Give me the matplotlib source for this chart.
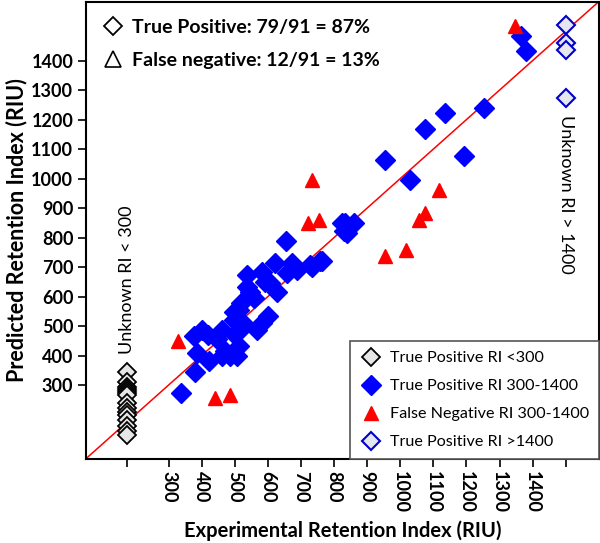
import matplotlib
matplotlib.use("Agg")
import matplotlib.pyplot as plt
from matplotlib.lines import Line2D
import numpy as np

plt.rcParams["font.family"] = ["Lato", "DejaVu Sans"]

# unknown-RI columns sit on their own tick positions
X_LOW, X_HIGH = 175, 1500

# true positives, unknown RI < 300 (predicted only)
tp_low_pred = [345, 309, 295, 288, 280, 272, 265, 239, 222, 208, 199, 182, 160, 143, 131]

# true positives, RI 300-1400
tp_exp = [337, 381, 386, 376, 401, 421, 461, 461, 486, 507, 512, 502, 497, 497, 512,
          537, 537, 547, 557, 567, 582, 602, 582, 621, 607, 628, 656, 673, 688, 658,
          733, 759, 824, 829, 728, 764, 834, 860, 839, 955, 1031, 1074, 1135, 1192,
          1253, 1364, 1379, 420, 445, 530, 520, 470, 590]
tp_pred = [273, 346, 408, 465, 487, 380, 487, 397, 397, 397, 431, 470, 521, 549, 555,
           674, 634, 617, 595, 487, 510, 533, 685, 713, 645, 617, 787, 713, 691, 679,
           702, 719, 849, 821, 708, 719, 849, 849, 815, 1064, 994, 1168, 1222, 1077,
           1239, 1484, 1431, 470, 455, 505, 580, 415, 650]

# false negatives, RI 300-1400
fn_exp = [328, 441, 486, 734, 720, 754, 955, 1016, 1056, 1076, 1117, 1348]
fn_pred = [448, 256, 267, 996, 849, 860, 738, 758, 860, 885, 960, 1516]

# true positives, unknown RI > 1400
tp_high_pred = [1521, 1459, 1436, 1273]

x_ticks = [X_LOW, 300, 400, 500, 600, 700, 800, 900, 1000, 1100, 1200, 1300, 1400, X_HIGH]
x_labels = ["", "300", "400", "500", "600", "700", "800", "900", "1000", "1100", "1200",
            "1300", "1400", ""]
y_ticks = list(range(300, 1500, 100))

fig = plt.figure(figsize=(6.0, 5.43), dpi=100)
ax = fig.add_axes([0.143, 0.155, 0.855, 0.842])

ax.plot([50, 1600], [50, 1600], color="red", lw=1.1, zorder=1)

ax.plot([X_LOW] * len(tp_low_pred), tp_low_pred, "D", ms=9.5, mfc="#e6e6e6", mec="black",
        mew=1.3, ls="none", zorder=3)
ax.plot(tp_exp, tp_pred, "D", ms=10, mfc="#0000ff", mec="#0000ff", ls="none", zorder=3)
ax.plot(fn_exp, fn_pred, "^", ms=10.5, mfc="#ff0000", mec="#ff0000", ls="none", zorder=4)
ax.plot([X_HIGH] * len(tp_high_pred), tp_high_pred, "D", ms=9.5, mfc="#e6e6ee",
        mec="#0000cc", mew=1.5, ls="none", zorder=3)

ax.set_xlim(50, 1600)
ax.set_ylim(50, 1600)
ax.set_xticks(x_ticks)
ax.set_xticklabels(x_labels, rotation=-90, fontsize=13, fontweight="bold")
ax.set_yticks(y_ticks)
ax.set_yticklabels([str(v) for v in y_ticks], fontsize=13, fontweight="bold")
ax.tick_params(direction="out", length=6, width=1.2, pad=3)
for s in ax.spines.values():
    s.set_linewidth(1.5)

ax.set_xlabel("Experimental Retention Index (RIU)", fontsize=14.5, fontweight="bold", labelpad=5)
ax.set_ylabel("Predicted Retention Index (RIU)", fontsize=15.5, fontweight="bold", labelpad=3)

ax.text(X_LOW, 657, "Unknown RI < 300", rotation=90, ha="center", va="center", fontsize=13)
ax.text(X_HIGH, 945, "Unknown RI > 1400", rotation=-90, ha="center", va="center", fontsize=13)

# summary key, top left
summ = [Line2D([], [], marker="D", ms=9, mfc="white", mec="black", mew=1.3, ls="none"),
        Line2D([], [], marker="^", ms=11, mfc="white", mec="black", mew=1.2, ls="none")]
leg1 = ax.legend(summ, ["True Positive: 79/91 = 87%", "False negative: 12/91 = 13%"],
                 loc="upper left", frameon=False, prop=dict(size=14, weight="bold"),
                 handlelength=1.0, handletextpad=0.5, labelspacing=0.8,
                 borderaxespad=0.5, bbox_to_anchor=(0.0, 1.0))
ax.add_artist(leg1)

handles = [Line2D([], [], marker="D", ms=9, mfc="#e6e6e6", mec="black", mew=1.3, ls="none"),
           Line2D([], [], marker="D", ms=10, mfc="#0000ff", mec="#0000ff", ls="none"),
           Line2D([], [], marker="^", ms=10.5, mfc="#ff0000", mec="#ff0000", ls="none"),
           Line2D([], [], marker="D", ms=9, mfc="#e6e6ee", mec="#0000cc", mew=1.5, ls="none")]
labels = ["True Positive RI <300", "True Positive RI 300-1400",
          "False Negative RI 300-1400", "True Positive RI >1400"]
leg2 = ax.legend(handles, labels, loc="lower right", fontsize=11.6, fancybox=False,
                 edgecolor="#555555", framealpha=1, borderaxespad=0, handletextpad=0.5,
                 handlelength=1.4, labelspacing=0.85, borderpad=0.6)
leg2.get_frame().set_linewidth(1.2)

fig.savefig("out.png", dpi=100)
